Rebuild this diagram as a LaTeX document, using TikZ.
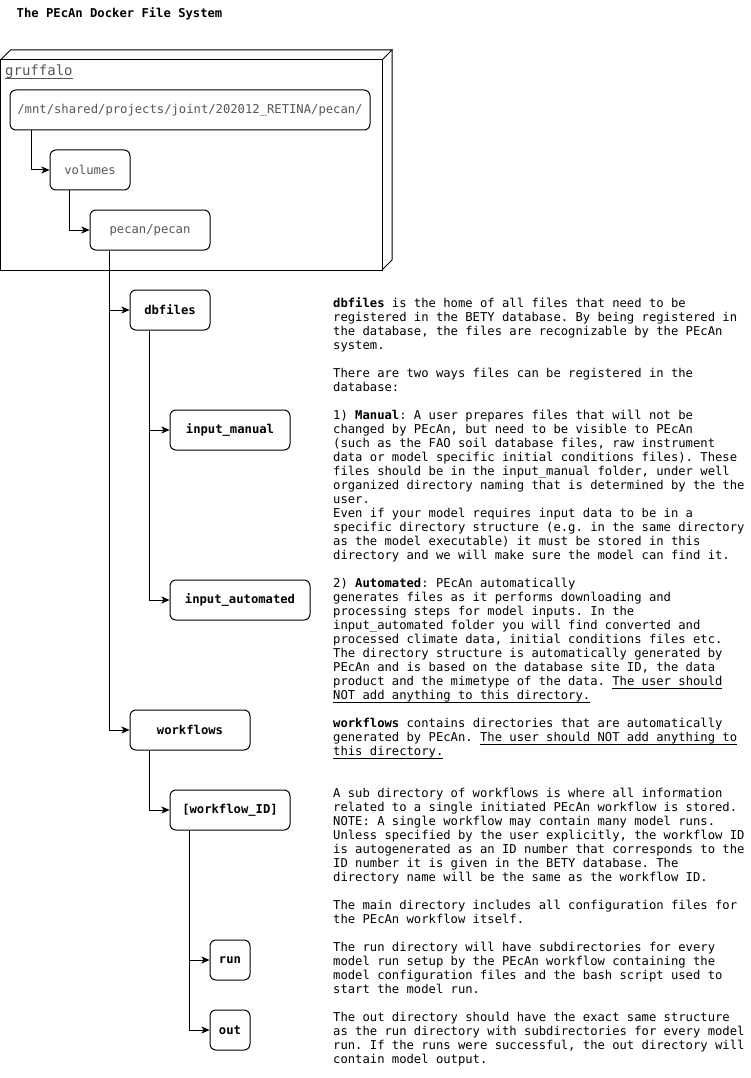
\documentclass[tikz,border=0pt]{standalone}
\usepackage{fontspec}
\setmonofont{DejaVu Sans Mono}
\usetikzlibrary{arrows.meta}
\definecolor{labelgray}{HTML}{555555}
\newcommand\mfont{\ttfamily\frenchspacing\fontsize{12.2pt}{14pt}\selectfont}
\newcommand\gfont{\ttfamily\fontsize{14pt}{16pt}\selectfont}
\newsavebox\ulinbox
\newcommand\ulin[1]{\leavevmode\sbox\ulinbox{#1}\rlap{\rule[-2.6pt]{\wd\ulinbox}{0.8pt}}\usebox\ulinbox}
\tikzset{
  dirbox/.style={draw, line width=1pt, rounded corners=6pt, minimum height=40pt,
                 inner sep=0pt, font=\mfont\bfseries},
  hostbox/.style={dirbox, font=\mfont, text=labelgray},
  conn/.style={line width=1pt, -{Stealth[length=8pt,width=7pt,inset=2pt]}},
  desc/.style={anchor=north west, inner sep=0pt, align=left, font=\mfont},
  frame3d/.style={line width=1pt, line join=miter}
}
\begin{document}
\begin{tikzpicture}[x=1pt,y=-1pt]
\useasboundingbox (0,0) rectangle (751,1078);

% title
\node[anchor=base west, inner sep=0pt, font=\mfont\bfseries] (title) at (16.5,18) {The PEcAn Docker File System};

% gruffalo 3D box
\draw[frame3d] (0.5,60) rectangle (382,270);
\draw[frame3d] (0.5,60) -- (10.5,50) -- (392,50) -- (382,60);
\draw[frame3d] (392,50) -- (392,260) -- (382,270);
\node[anchor=base west, inner sep=0pt, font=\gfont, text=labelgray] (host) at (5,76) {\ulin{gruffalo}};

% host nodes
\node[hostbox, minimum width=360pt] (path) at (190,110) {/mnt/shared/projects/joint/202012\_RETINA/pecan/};
\node[hostbox, minimum width=80pt] (volumes) at (90,170) {volumes};
\node[hostbox, minimum width=120pt] (pecan) at (150,230) {pecan/pecan};

% directory nodes
\node[dirbox, minimum width=80pt] (dbfiles) at (170,310) {dbfiles};
\node[dirbox, minimum width=120pt] (manual) at (230,430) {input\_manual};
\node[dirbox, minimum width=140pt] (automated) at (240,600) {input\_automated};
\node[dirbox, minimum width=120pt] (workflows) at (190,730) {workflows};
\node[dirbox, minimum width=120pt] (wfid) at (230,810) {[workflow\_ID]};
\node[dirbox, minimum width=40pt] (run) at (230,960) {run};
\node[dirbox, minimum width=40pt] (out) at (230,1030) {out};

% connectors
\draw[conn] ([xshift=22pt]path.south west) |- (volumes);
\draw[conn] ([xshift=20pt]volumes.south west) |- (pecan);
\draw[conn] ([xshift=20pt]pecan.south west) |- (dbfiles);
\draw[conn] ([xshift=20pt]pecan.south west) |- (workflows);
\draw[conn] ([xshift=20pt]dbfiles.south west) |- (manual);
\draw[conn] ([xshift=20pt]dbfiles.south west) |- (automated);
\draw[conn] ([xshift=20pt]workflows.south west) |- (wfid);
\draw[conn] ([xshift=20pt]wfid.south west) |- (run);
\draw[conn] ([xshift=20pt]wfid.south west) |- (out);

% descriptions
\node[desc] (d1) at (333,297.7) {\strut\textbf{dbfiles} is the home of all files that need to be\\
registered in the BETY database. By being registered in\\
the database, the files are recognizable by the PEcAn\\
system.};
\node[desc] (d2) at (333,367.7) {\strut There are two ways files can be registered in the\\
database:};
\node[desc] (d3) at (333,409.7) {\strut 1) \textbf{Manual}: A user prepares files that will not be\\
changed by PEcAn, but need to be visible to PEcAn\\
(such as the FAO soil database files, raw instrument\\
data or model specific initial conditions files). These\\
files should be in the input\_manual folder, under well\\
organized directory naming that is determined by the the\\
user.\\
Even if your model requires input data to be in a\\
specific directory structure (e.g. in the same directory\\
as the model executable) it must be stored in this\\
directory and we will make sure the model can find it.};
\node[desc] (d4) at (333,577.7) {\strut 2) \textbf{Automated}: PEcAn automatically\\
generates files as it performs downloading and\\
processing steps for model inputs. In the\\
input\_automated folder you will find converted and\\
processed climate data, initial conditions files etc.\\
The directory structure is automatically generated by\\
PEcAn and is based on the database site ID, the data\\
product and the mimetype of the data. \ulin{The user should}\\
\ulin{NOT add anything to this directory.}};
\node[desc] (d5) at (333,717.7) {\strut\textbf{workflows} contains directories that are automatically\\
generated by PEcAn. \ulin{The user should NOT add anything to}\\
\ulin{this directory.}};
\node[desc] (d6) at (333,787.7) {\strut A sub directory of workflows is where all information\\
related to a single initiated PEcAn workflow is stored.\\
NOTE: A single workflow may contain many model runs.\\
Unless specified by the user explicitly, the workflow ID\\
is autogenerated as an ID number that corresponds to the\\
ID number it is given in the BETY database. The\\
directory name will be the same as the workflow ID.};
\node[desc] (d7) at (333,899.7) {\strut The main directory includes all configuration files for\\
the PEcAn workflow itself.};
\node[desc] (d8) at (333,941.7) {\strut The run directory will have subdirectories for every\\
model run setup by the PEcAn workflow containing the\\
model configuration files and the bash script used to\\
start the model run.};
\node[desc] (d9) at (333,1011.7) {\strut The out directory should have the exact same structure\\
as the run directory with subdirectories for every model\\
run. If the runs were successful, the out directory will\\
contain model output.};
\end{tikzpicture}
\end{document}
